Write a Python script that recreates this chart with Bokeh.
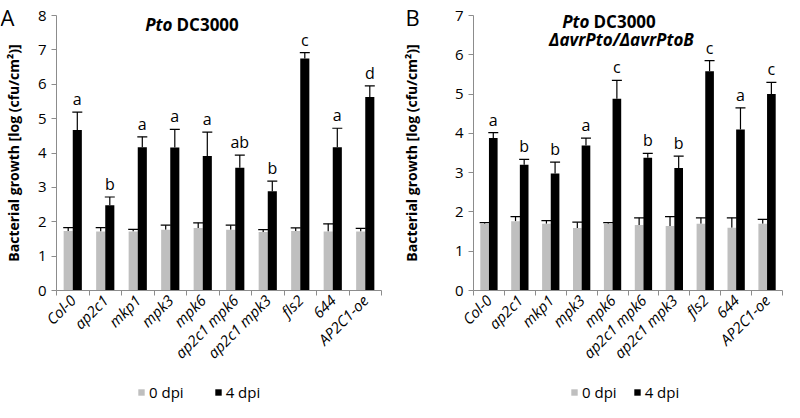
from math import pi
from bokeh.plotting import figure
from bokeh.models import (ColumnDataSource, FixedTicker, Whisker, TeeHead, Legend,
                          LegendItem, Label, Range1d)
from bokeh.layouts import row
from bokeh.transform import dodge
from bokeh.embed import file_html
from bokeh.resources import INLINE
from bokeh.core.properties import value

genotypes = ["Col-0", "ap2c1", "mkp1", "mpk3", "mpk6", "ap2c1 mpk6",
             "ap2c1 mpk3", "fls2", "644", "AP2C1-oe"]
series_names = ["0 dpi", "4 dpi"]

# Panel A: Pto DC3000
a_0dpi = [1.73, 1.72, 1.72, 1.77, 1.82, 1.77, 1.70, 1.73, 1.72, 1.72]
a_0dpi_err = [0.10, 0.11, 0.06, 0.13, 0.15, 0.13, 0.07, 0.09, 0.22, 0.09]
a_4dpi = [4.67, 2.48, 4.17, 4.16, 3.91, 3.57, 2.89, 6.75, 4.17, 5.63]
a_4dpi_err = [0.52, 0.24, 0.30, 0.53, 0.70, 0.37, 0.29, 0.17, 0.55, 0.32]
a_letters = ["a", "b", "a", "a", "a", "ab", "b", "c", "a", "d"]
a_yticks = [0, 1, 2, 3, 4, 5, 6, 7, 8]

# Panel B: Pto DC3000 ΔavrPto/ΔavrPtoB
b_0dpi = [1.70, 1.76, 1.70, 1.59, 1.70, 1.67, 1.64, 1.70, 1.60, 1.70]
b_0dpi_err = [0.03, 0.12, 0.08, 0.15, 0.03, 0.18, 0.24, 0.15, 0.25, 0.11]
b_4dpi = [3.88, 3.20, 2.98, 3.69, 4.88, 3.38, 3.12, 5.58, 4.10, 5.00]
b_4dpi_err = [0.14, 0.14, 0.29, 0.19, 0.47, 0.11, 0.30, 0.27, 0.55, 0.30]
b_letters = ["a", "b", "b", "a", "c", "b", "b", "c", "a", "c"]
b_yticks = [0, 1, 2, 3, 4, 5, 6, 7]

FONT = "Open Sans"
AXIS_COLOR = "#8c8c8c"
GRAY = "#bfbfbf"
YLABEL = "Bacterial growth [log (cfu/cm\u00b2)]"
COLORS = [GRAY, "black"]

W = 392          # width of each panel figure
FIG_H = 402      # height of each panel figure
PLOT_TOP = 15    # px from figure top to the highest y tick
PLOT_BOTTOM = 290  # px from figure top to y = 0


def make_panel(panel_letter, zero, zero_err, four, four_err, letters, yticks,
               plot_left, plot_right, ylabel_standoff,
               title_lines, legend_x, legend_spacing, letter_x):
    n = len(genotypes)
    ymax = yticks[-1]
    # the frame covers the whole figure; axes sit at fixed data positions
    xppu = (plot_right - plot_left) / n
    yppu = (PLOT_BOTTOM - PLOT_TOP) / ymax
    x_range = Range1d(0.5 - plot_left / xppu, n + 0.5 + (W - plot_right) / xppu)
    y_range = Range1d(-(FIG_H - PLOT_BOTTOM) / yppu, ymax + PLOT_TOP / yppu)

    xc = [i + 1 for i in range(n)]
    src = ColumnDataSource(dict(
        x=xc,
        zero=zero, zero_top=[v + e for v, e in zip(zero, zero_err)],
        four=four, four_top=[v + e for v, e in zip(four, four_err)],
        letters=letters,
    ))
    p = figure(width=W, height=FIG_H, x_range=x_range, y_range=y_range,
               output_backend="svg", toolbar_location=None, min_border=0)
    p.outline_line_color = None
    p.grid.visible = False

    bw = 0.28
    r0 = p.vbar(x=dodge("x", -0.14, range=p.x_range), top="zero", width=bw,
                source=src, fill_color=COLORS[0], line_color=None)
    r4 = p.vbar(x=dodge("x", 0.14, range=p.x_range), top="four", width=bw,
                source=src, fill_color=COLORS[1], line_color=None)
    for off, base, upper in [(-0.14, "zero", "zero_top"), (0.14, "four", "four_top")]:
        p.add_layout(Whisker(base=dodge("x", off, range=p.x_range), lower=base, upper=upper,
                             source=src, line_color="black", line_width=1.2,
                             upper_head=TeeHead(size=10, line_color="black", line_width=1.2),
                             lower_head=None))

    p.text(x=dodge("x", 0.14, range=p.x_range), y="four_top", text="letters",
           source=src, text_align="center", text_baseline="alphabetic",
           y_offset=-13, text_font=value(FONT), text_font_size="16px",
           text_color="black")

    ya = p.yaxis[0]
    ya.fixed_location = 0.5
    ya.bounds = (yticks[0], ymax)
    ya.ticker = FixedTicker(ticks=yticks)
    ya.axis_line_color = AXIS_COLOR
    ya.major_tick_line_color = AXIS_COLOR
    ya.major_tick_out = 5
    ya.major_tick_in = 0
    ya.minor_tick_line_color = None
    ya.major_label_text_font = FONT
    ya.major_label_text_font_size = "15px"
    ya.major_label_text_color = "black"
    ya.major_label_standoff = 5
    ya.axis_label = YLABEL
    ya.axis_label_text_font = FONT
    ya.axis_label_text_font_style = "bold"
    ya.axis_label_text_font_size = "14px"
    ya.axis_label_text_color = "black"
    ya.axis_label_standoff = ylabel_standoff

    xa = p.xaxis[0]
    xa.fixed_location = 0
    xa.bounds = (0.5, n + 0.5)
    xa.ticker = FixedTicker(ticks=xc, minor_ticks=[i + 0.5 for i in range(n + 1)])
    xa.major_label_overrides = {x: g for x, g in zip(xc, genotypes)}
    xa.major_label_orientation = pi / 4
    xa.major_label_text_font = FONT
    xa.major_label_text_font_style = "italic"
    xa.major_label_text_font_size = "15px"
    xa.major_label_text_color = "black"
    xa.major_label_standoff = 2
    xa.axis_line_color = AXIS_COLOR
    xa.major_tick_line_color = None
    xa.major_tick_out = 5
    xa.major_tick_in = 0
    xa.minor_tick_line_color = AXIS_COLOR
    xa.minor_tick_out = 5
    xa.minor_tick_in = 0

    for txt, x, y_from_top, align, style in title_lines:
        p.add_layout(Label(x=x, y=FIG_H - y_from_top, x_units="screen", y_units="screen",
                           text=txt, text_align=align, text_baseline="middle",
                           text_font=FONT, text_font_style=style,
                           text_font_size="17px", text_color="black"))

    p.add_layout(Label(x=letter_x, y=FIG_H - 16, x_units="screen", y_units="screen",
                       text=panel_letter, text_align="left", text_baseline="alphabetic",
                       text_font=FONT, text_font_size="22px", text_color="black"))

    p.add_layout(Legend(items=[LegendItem(label=series_names[0], renderers=[r0]),
                               LegendItem(label=series_names[1], renderers=[r4])],
                        location=(legend_x, 0), orientation="horizontal",
                        glyph_width=8, glyph_height=8, label_height=16,
                        label_standoff=4, spacing=legend_spacing, padding=0, margin=0,
                        border_line_color=None, background_fill_alpha=0,
                        label_text_font=FONT, label_text_font_size="15px",
                        label_text_color="black"))
    return p


pa = make_panel("A", a_0dpi, a_0dpi_err, a_4dpi, a_4dpi_err, a_letters, a_yticks,
                plot_left=56, plot_right=381, ylabel_standoff=12,
                title_lines=[("Pto", 172, 24, "right", "bold italic"),
                             ("DC3000", 176, 24, "left", "bold")],
                legend_x=137, legend_spacing=30, letter_x=0)
pb = make_panel("B", b_0dpi, b_0dpi_err, b_4dpi, b_4dpi_err, b_letters, b_yticks,
                plot_left=81, plot_right=390, ylabel_standoff=31,
                title_lines=[("Pto", 197, 21, "right", "bold italic"),
                             ("DC3000", 201, 21, "left", "bold"),
                             ("\u0394avrPto/\u0394avrPtoB", 229, 39, "center", "bold italic")],
                legend_x=178, legend_spacing=16, letter_x=13)

layout = row(pa, pb, spacing=0)
open("out.html", "w").write(file_html(layout, INLINE))
